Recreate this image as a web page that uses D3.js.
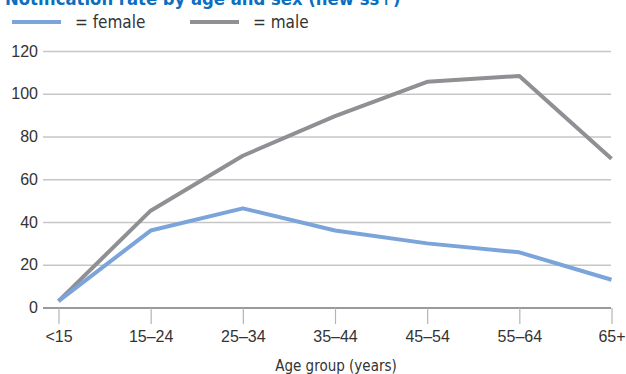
<!DOCTYPE html>
<html>
<head>
<meta charset="utf-8">
<script src="https://cdn.jsdelivr.net/npm/d3@7"></script>
<style>
  body { margin: 0; background: #fff; }
  svg { display: block; font-family: "Liberation Sans Narrow", "DejaVu Sans Condensed", "Arial Narrow", sans-serif; }
</style>
</head>
<body>
<div id="chart"></div>
<script>
// chart data
const ageGroups = ["<15", "15\u201324", "25\u201334", "35\u201344", "45\u201354", "55\u201364", "65+"];
const female = [3, 36, 46.4, 36, 30, 25.8, 13];
const male = [3, 45.3, 71, 89.5, 105.6, 108.3, 69.6];
const yTicks = [0, 20, 40, 60, 80, 100, 120];

const width = 626, height = 374;
const colors = { female: "#7ba4da", male: "#8f9093" };

const svg = d3.select("#chart").append("svg")
  .attr("width", width)
  .attr("height", height);

// title, cut off at the top like the source
svg.append("text")
  .attr("x", 5)
  .attr("y", 5)
  .attr("fill", "#0b6fc1")
  .attr("font-weight", "bold")
  .attr("font-size", 18.3)
  .text("Notification rate by age and sex (new ss+)");

// legend
const legend = [
  { label: "= female", color: colors.female, x: 12 },
  { label: "= male", color: colors.male, x: 190 }
];
const lg = svg.selectAll(".legend").data(legend).enter().append("g")
  .attr("transform", d => `translate(${d.x},22)`);
lg.append("line")
  .attr("x1", 0).attr("x2", 49)
  .attr("stroke", d => d.color)
  .attr("stroke-width", 4);
lg.append("text")
  .attr("x", 63).attr("y", 6)
  .attr("font-size", 17)
  .attr("fill", "#333")
  .text(d => d.label);

const x = d3.scalePoint().domain(ageGroups).range([58.5, 611.5]);
const y = d3.scaleLinear().domain([0, 120]).range([307.5, 51]);

// gridlines + y labels
const yAxis = svg.append("g")
  .attr("transform", "translate(43,0)")
  .call(d3.axisLeft(y).tickValues(yTicks).tickSize(0).tickPadding(5));
yAxis.select(".domain").remove();
yAxis.selectAll("text").attr("font-size", 16).attr("fill", "#333").attr("font-family", null);
yAxis.selectAll(".tick").append("line")
  .attr("x2", 568)
  .attr("stroke", d => d === 0 ? "#9a9a9a" : "#c6c6c6")
  .attr("stroke-width", d => d === 0 ? 2 : 1.3);

// x axis ticks
const xAxis = svg.append("g")
  .attr("transform", "translate(0,308)")
  .call(d3.axisBottom(x).tickSize(16).tickPadding(7));
xAxis.select(".domain").remove();
xAxis.selectAll("line").attr("stroke", "#b4b4b4").attr("stroke-width", 1.2);
xAxis.selectAll("text").attr("font-size", 16).attr("fill", "#333").attr("font-family", null);

svg.append("text")
  .attr("x", 336)
  .attr("y", 371)
  .attr("text-anchor", "middle")
  .attr("font-size", 15)
  .attr("fill", "#333")
  .text("Age group (years)");

// series lines
const line = d3.line()
  .x((d, i) => x(ageGroups[i]))
  .y(d => y(d));

svg.append("path").datum(male)
  .attr("fill", "none")
  .attr("stroke", colors.male)
  .attr("stroke-width", 4)
  .attr("stroke-linejoin", "round")
  .attr("d", line);

svg.append("path").datum(female)
  .attr("fill", "none")
  .attr("stroke", colors.female)
  .attr("stroke-width", 4)
  .attr("stroke-linejoin", "round")
  .attr("d", line);
</script>
</body>
</html>
